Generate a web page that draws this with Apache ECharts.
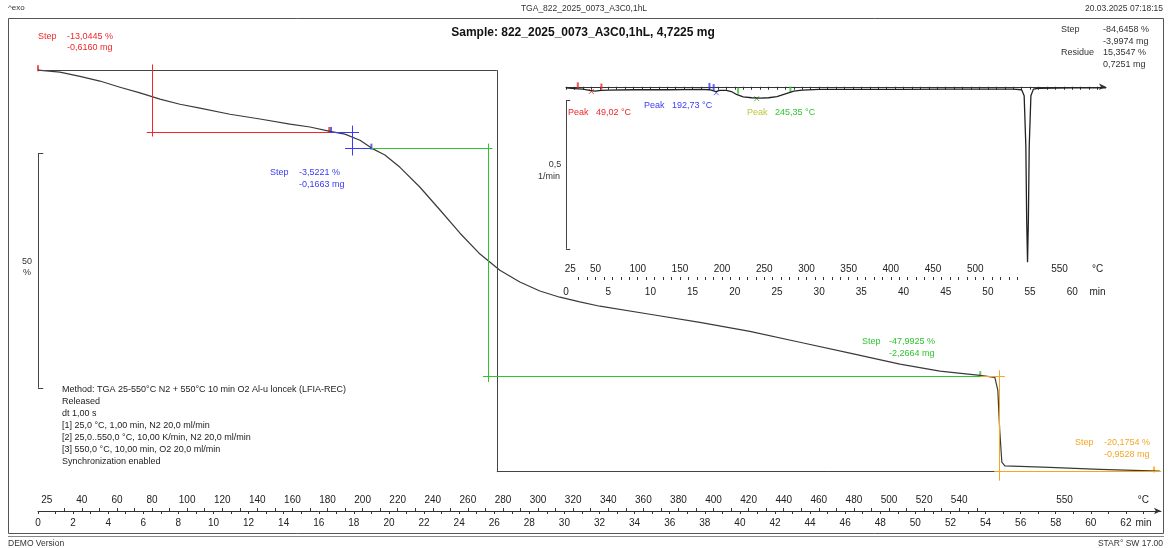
<!DOCTYPE html>
<html><head><meta charset="utf-8">
<script src="https://cdn.jsdelivr.net/npm/echarts@6.0.0/dist/echarts.min.js"></script>
<style>html,body{margin:0;padding:0;background:#fff}#c{width:1168px;height:548px}</style>
</head><body><div id="c"></div>
<script>
// ---- TGA mass curve (time in min, mass in %) ----
const massTime = [0,1.25,2.39,3.53,4.67,5.81,6.95,8.09,9.23,10.94,12.65,14.36,15.50,16.64,17.49,18.35,19.03,19.77,20.63,21.77,22.91,24.05,25.19,26.32,27.46,28.60,29.74,30.88,32.02,34.87,37.72,40.57,43.42,46.27,49.12,51.40,53.68,54.53,54.70,54.81,54.93,55.10,57.66,60.51,63.93];
const massPct  = [100,99.6,98.7,97.7,96.4,95.2,93.9,92.8,92.0,90.7,89.7,88.6,88.0,87.1,86.5,85.2,83.5,82.1,79.5,75.3,70.5,65.6,61.2,57.8,55.3,53.4,52.1,51.1,50.2,48.5,46.8,44.9,42.6,40.3,38.0,36.5,35.6,35.2,32.5,24.0,17.3,16.5,16.2,15.8,15.4];

// ---- DTG curve in the inset (time in min, 1/min) ----
const dtgTime = [0,1,2,2.8,3.4,4.2,5,8,12,16,17,17.5,17.8,18.2,19,19.6,20.2,21,22,23,24,25,26,27,28,30,35,40,45,50,53,54,54.3,54.5,54.6,54.7,54.8,54.9,55.1,55.4,56,60,64];
const dtgVal  = [-0.004,-0.006,-0.008,-0.012,-0.015,-0.012,-0.011,-0.010,-0.010,-0.009,-0.010,-0.014,-0.016,-0.012,-0.012,-0.016,-0.026,-0.034,-0.037,-0.038,-0.037,-0.033,-0.024,-0.015,-0.011,-0.009,-0.009,-0.009,-0.008,-0.008,-0.008,-0.010,-0.03,-0.2,-0.45,-0.59,-0.45,-0.2,-0.03,-0.008,-0.005,-0.004,-0.004];

// ---- Step evaluation constructions (time, %) ----
const blackLines  = [[[0,100],[26.15,100]],[[26.15,100],[26.15,15.2]],[[26.15,15.35],[64,15.35]]];
const redLines    = [[[-0.35,100],[6.5,100]],[[6.5,101.2],[6.5,86.0]],[[6.2,86.96],[16.6,86.96]]];
const blueLines   = [[[16.6,86.96],[18.3,86.96]],[[17.9,88.3],[17.9,82.0]],[[17.5,83.44],[19.0,83.44]]];
const greenLines  = [[[19.0,83.44],[25.9,83.44]],[[25.64,84.5],[25.64,34.2]],[[25.36,35.45],[53.7,35.45]]];
const orangeLines = [[[53.7,35.45],[55.1,35.45]],[[54.8,36.7],[54.8,13.4]],[[54.5,15.35],[64,15.35]]];
const scaleBarMain = [[[0,82.5],[0,33.0]],[[0,82.5],[0.3,82.5]],[[0,33.0],[0.3,33.0]]];
const flagPts = [[0,100,'red'],[16.6,86.96,'red'],[16.7,86.96,'blue'],[19.0,83.44,'blue'],[53.7,35.45,'green'],[63.6,15.35,'orange']];

// ---- inset evaluation markers (time, 1/min) ----
const insetFlags = [[1.4,-0.002,'red'],[4.2,-0.006,'red'],[17.0,-0.004,'blue'],[17.5,-0.008,'blue'],[20.4,-0.020,'green'],[26.6,-0.016,'green']];
const insetPeaks = [[3.0,-0.016,'red'],[17.8,-0.020,'blue'],[22.6,-0.040,'green']];
const scaleBarInset = [[[0,-0.045],[0,-0.545]],[[0,-0.045],[0.5,-0.045]],[[0,-0.545],[0.5,-0.545]]];

// ---- axis tick labels ----
const mainTimeLabels = [0,2,4,6,8,10,12,14,16,18,20,22,24,26,28,30,32,34,36,38,40,42,44,46,48,50,52,54,56,58,60,62];
const mainTempLabels = ['25','40','60','80','100','120','140','160','180','200','220','240','260','280','300','320','340','360','380','400','420','440','460','480','500','520','540','550','°C'];
const mainTempLabelTimes = [0.5,2.5,4.5,6.5,8.5,10.5,12.5,14.5,16.5,18.5,20.5,22.5,24.5,26.5,28.5,30.5,32.5,34.5,36.5,38.5,40.5,42.5,44.5,46.5,48.5,50.5,52.5,58.5,63];
const insetTimeLabels = [0,5,10,15,20,25,30,35,40,45,50,55,60];
const insetTempLabels = ['25','50','100','150','200','250','300','350','400','450','500','550','°C'];
const insetTempLabelTimes = [0.5,3.5,8.5,13.5,18.5,23.5,28.5,33.5,38.5,43.5,48.5,58.5,63];

// temperature program: 25 °C 1 min, 10 K/min to 550 °C, 10 min at 550 °C
const minuteTicks = []; for (let t = 0; t <= 63; t++) minuteTicks.push(t);
const tempTicks = []; for (let T = 30; T <= 550; T += 10) tempTicks.push(1 + (T - 25) / 10);

const COL = {red:'#f2262a', blue:'#3b3bf5', green:'#2fc42f', orange:'#f5a623', black:'#3a3a3a'};
const F = 'Liberation Sans, Arial, sans-serif';

function lookup(times, labels) {
  const m = {}; times.forEach((t,i) => m[t.toFixed(2)] = labels[i]);
  return v => { const s = m[(+v).toFixed(2)]; return s === undefined ? '' : s; };
}
function segs(list, color) {
  return list.map(s => [{coord:s[0], lineStyle:{color, width:1, type:'solid'}}, {coord:s[1]}]);
}
const axisBase = {type:'value', min:0, max:64, position:'bottom', splitLine:{show:false}};

const chart = echarts.init(document.getElementById('c'), null, {renderer:'canvas'});
const texts = [];
function T(x, y, text, color, o) {
  o = o || {};
  texts.push({type:'text', x, y, silent:true, style:{text, fill:color||'#333', font:(o.bold?'bold ':'') + (o.size||9) + 'px ' + F, textAlign:o.align||'left', textVerticalAlign:'middle'}});
}
// header
T(8,8,'^exo','#333',{size:8});
T(584,9,'TGA_822_2025_0073_A3C0,1hL','#333',{size:8.5,align:'center'});
T(1163,9,'20.03.2025 07:18:15','#333',{size:8.5,align:'right'});
T(583,33,'Sample: 822_2025_0073_A3C0,1hL, 4,7225 mg','#111',{size:12,bold:true,align:'center'});
// step texts
T(38,37,'Step',COL.red); T(67,37,'-13,0445 %',COL.red); T(67,48,'-0,6160 mg',COL.red);
T(270,173,'Step',COL.blue); T(299,173,'-3,5221 %',COL.blue); T(299,185,'-0,1663 mg',COL.blue);
T(862,342,'Step',COL.green); T(889,342,'-47,9925 %',COL.green); T(889,354,'-2,2664 mg',COL.green);
T(1075,443,'Step',COL.orange); T(1104,443,'-20,1754 %',COL.orange); T(1104,455,'-0,9528 mg',COL.orange);
T(1061,30,'Step','#333'); T(1103,30,'-84,6458 %','#333'); T(1103,42,'-3,9974 mg','#333');
T(1061,53,'Residue','#333'); T(1103,53,'15,3547 %','#333'); T(1103,65,'0,7251 mg','#333');
// inset peak texts
T(568,113,'Peak',COL.red); T(596,113,'49,02 °C',COL.red);
T(644,106,'Peak',COL.blue); T(672,106,'192,73 °C',COL.blue);
T(747,113,'Peak','#bcc83a'); T(775,113,'245,35 °C',COL.green);
// scale labels
T(555,165,'0,5','#333',{align:'center'}); T(549,177,'1/min','#333',{align:'center'});
T(27,262,'50','#333',{align:'center'}); T(27,273,'%','#333',{align:'center'});
// method
const method = ['Method: TGA 25-550°C N2 + 550°C 10 min O2 Al-u loncek (LFIA-REC)','Released','dt 1,00 s','[1] 25,0 °C, 1,00 min, N2 20,0 ml/min','[2] 25,0..550,0 °C, 10,00 K/min, N2 20,0 ml/min','[3] 550,0 °C, 10,00 min, O2 20,0 ml/min','Synchronization enabled'];
method.forEach((s,i) => T(62, 390 + i*12, s, '#222'));
// footer
T(8,544,'DEMO Version','#333',{size:8.5});
T(1163,544,'STAR° SW 17.00','#333',{size:8.5,align:'right'});

const graphics = [
  {type:'rect', silent:true, shape:{x:8.5,y:18.5,width:1155,height:515}, style:{fill:'none', stroke:'#555', lineWidth:1}},
  {type:'line', silent:true, shape:{x1:8,y1:536.5,x2:1164,y2:536.5}, style:{stroke:'#888', lineWidth:1}}
].concat(texts);

chart.setOption({
  animation:false,
  backgroundColor:'#fff',
  grid:[{left:38,right:7,top:18,height:493},{left:566,right:62,top:60,height:220}],
  xAxis:[
    Object.assign({}, axisBase, {gridIndex:0,
      axisLine:{lineStyle:{color:'#333',width:1}, symbol:['none','arrow'], symbolSize:[5,7]},
      axisTick:{customValues:minuteTicks, length:3, lineStyle:{color:'#333'}},
      axisLabel:{customValues:mainTimeLabels.concat([63]), formatter:v => (+v===63?'min':String(v)), margin:7, fontSize:10, color:'#222', fontFamily:F}}),
    Object.assign({}, axisBase, {gridIndex:0, axisLine:{show:false},
      axisTick:{inside:true, customValues:tempTicks, length:3, lineStyle:{color:'#333'}},
      axisLabel:{inside:true, customValues:mainTempLabelTimes, formatter:lookup(mainTempLabelTimes, mainTempLabels), margin:6, fontSize:10, color:'#222', fontFamily:F}}),
    Object.assign({}, axisBase, {gridIndex:1,
      axisLine:{lineStyle:{color:'#333',width:1}, symbol:['none','arrow'], symbolSize:[5,7]},
      axisTick:{customValues:minuteTicks, length:3, lineStyle:{color:'#333'}},
      axisLabel:{customValues:insetTimeLabels.concat([63]), formatter:v => (+v===63?'min':String(v)), margin:7, fontSize:10, color:'#222', fontFamily:F}}),
    Object.assign({}, axisBase, {gridIndex:1, axisLine:{show:false},
      axisTick:{inside:true, customValues:tempTicks, length:3, lineStyle:{color:'#333'}},
      axisLabel:{inside:true, customValues:insetTempLabelTimes, formatter:lookup(insetTempLabelTimes, insetTempLabels), margin:6, fontSize:10, color:'#222', fontFamily:F}})
  ],
  yAxis:[
    {type:'value', gridIndex:0, min:7, max:111, show:false},
    {type:'value', gridIndex:1, min:-0.65, max:0.09, show:false}
  ],
  series:[
    {type:'line', xAxisIndex:0, yAxisIndex:0, data:[[0,100]], showSymbol:false, lineStyle:{opacity:0}, silent:true,
      markLine:{silent:true, symbol:['none','none'], label:{show:false}, animation:false,
        data:[].concat(segs(blackLines,'#444'), segs(redLines,COL.red), segs(blueLines,COL.blue), segs(greenLines,COL.green), segs(orangeLines,COL.orange), segs(scaleBarMain,'#444'))}},
    {type:'line', xAxisIndex:2, yAxisIndex:1, data:[[0,0]], showSymbol:false, lineStyle:{opacity:0}, silent:true,
      markLine:{silent:true, symbol:['none','none'], label:{show:false}, animation:false, data:segs(scaleBarInset,'#444')}},
    {type:'line', xAxisIndex:0, yAxisIndex:0, data:massTime.map((t,i)=>[t,massPct[i]]), showSymbol:false, smooth:false, lineStyle:{color:COL.black, width:1.2, join:'round'}},
    {type:'line', xAxisIndex:2, yAxisIndex:1, data:dtgTime.map((t,i)=>[t,dtgVal[i]]), showSymbol:false, lineStyle:{color:'#222', width:1.3}},
    {type:'scatter', xAxisIndex:0, yAxisIndex:0, symbol:'rect', symbolSize:[2,6], symbolOffset:[0,-2],
      data:flagPts.map(p=>({value:[p[0],p[1]], itemStyle:{color:COL[p[2]]}}))},
    {type:'scatter', xAxisIndex:2, yAxisIndex:1, symbol:'rect', symbolSize:[2,6], symbolOffset:[0,-2],
      data:insetFlags.map(p=>({value:[p[0],p[1]], itemStyle:{color:COL[p[2]]}}))},
    {type:'scatter', xAxisIndex:2, yAxisIndex:1, symbol:'path://M0,0L10,10M10,0L0,10', symbolSize:5,
      data:insetPeaks.map(p=>({value:[p[0],p[1]], itemStyle:{color:'none', borderColor:COL[p[2]], borderWidth:1}}))}
  ],
  graphic:graphics
});
</script></body></html>
